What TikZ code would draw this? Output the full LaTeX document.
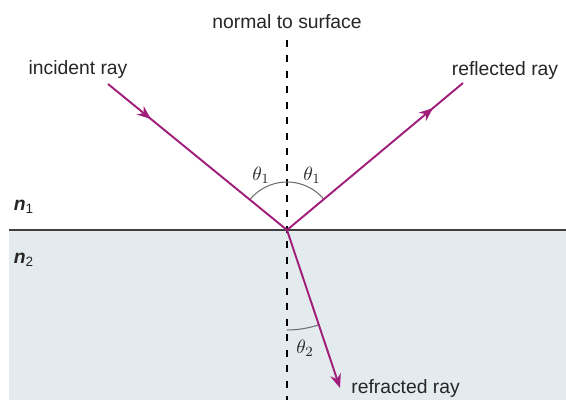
\documentclass[tikz,border=0pt]{standalone}
\usepackage{fontspec}
\setmainfont{Liberation Sans}
\usetikzlibrary{arrows.meta,angles,decorations.markings}
\definecolor{raycol}{RGB}{160,30,122}
\definecolor{medium}{RGB}{228,235,239}
\definecolor{arcgray}{RGB}{110,110,110}
\tikzset{
  >=Stealth,
  ray/.style={draw=raycol, line width=1.1pt},
  midarrow/.style={postaction={decorate},
    decoration={markings, mark=at position #1 with {\arrow[raycol]{Stealth[length=2.8mm,width=2.2mm]}}}},
  lbl/.style={font=\fontsize{11}{13}\selectfont, text=black!85, inner sep=0pt},
  anglearc/.style={draw=arcgray, line width=0.6pt},
}

\begin{document}
\begin{tikzpicture}[x=0.02cm,y=0.02cm]
\useasboundingbox (0,0) rectangle (566,400);
\fill[medium] (9,0) rectangle (566,170);
\draw[line width=1.1pt, black!75] (9,170) -- (566,170);

\coordinate (O) at (287,170);
\coordinate (ntop) at (287,360);
\coordinate (nbot) at (287,0);
\coordinate (inc) at (108,316);
\coordinate (refl) at (463,317);
\coordinate (rfr) at (340,12);

\draw[line width=0.9pt, dash pattern=on 1.4mm off 1.7mm] (ntop) -- (nbot);

\pic[anglearc, angle radius=0.96cm] {angle=refl--O--inc};
\pic[anglearc, angle radius=2cm] {angle=nbot--O--rfr};

\draw[ray, midarrow=0.24] (inc) -- (O);
\draw[ray, midarrow=0.83] (O) -- (refl);
\draw[ray, -{Stealth[length=2.8mm,width=2.2mm]}] (O) -- (rfr);

\node[lbl] (normlbl) at (287,378) {normal to surface};
\node[lbl] (inclbl) at (78,330) {incident ray};
\node[lbl] (refllbl) at (505,329) {reflected ray};
\node[lbl, anchor=west] (rfrlbl) at (351,11) {refracted ray};
\node[lbl] (none) at (24,193) {{\bfseries\itshape n}\textsubscript{1}};
\node[lbl] (ntwo) at (24,140) {{\bfseries\itshape n}\textsubscript{2}};
\node[lbl] (thl) at (261,225) {$\theta_1$};
\node[lbl] (thr) at (312,225) {$\theta_1$};
\node[lbl] (thb) at (305,52) {$\theta_2$};
\end{tikzpicture}
\end{document}
